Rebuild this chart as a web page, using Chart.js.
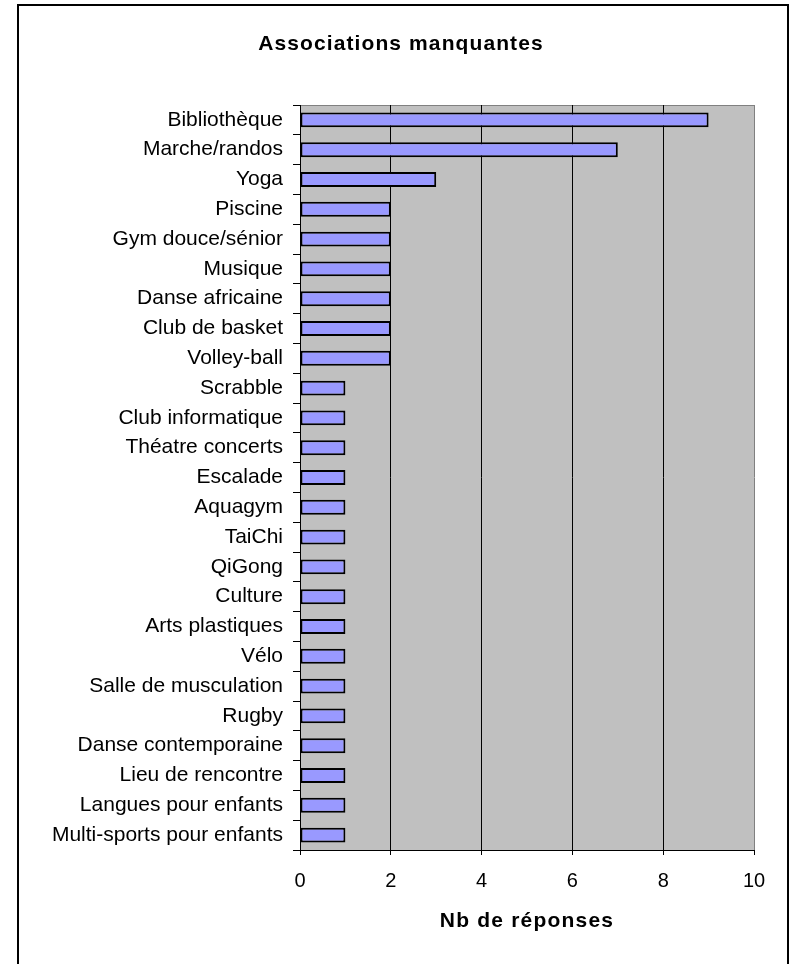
<!DOCTYPE html>
<html>
<head>
<meta charset="utf-8">
<script src="https://cdn.jsdelivr.net/npm/chart.js@4/dist/chart.umd.min.js"></script>
<style>
  body { margin: 0; background: #fff; }
  canvas { display: block; }
</style>
</head>
<body>
<canvas id="assocChart" width="792" height="964"></canvas>
<script>
// Associations manquantes
const categories = [
    'Bibliothèque', 'Marche/randos', 'Yoga', 'Piscine', 'Gym douce/sénior',
    'Musique', 'Danse africaine', 'Club de basket', 'Volley-ball', 'Scrabble',
    'Club informatique', 'Théatre concerts', 'Escalade', 'Aquagym', 'TaiChi',
    'QiGong', 'Culture', 'Arts plastiques', 'Vélo', 'Salle de musculation',
    'Rugby', 'Danse contemporaine', 'Lieu de rencontre', 'Langues pour enfants',
    'Multi-sports pour enfants'
];
const reponses = [9, 7, 3, 2, 2, 2, 2, 2, 2, 1, 1, 1, 1, 1, 1, 1, 1, 1, 1, 1, 1, 1, 1, 1, 1];
const xTicks = [0, 2, 4, 6, 8, 10];
const chartTitle = 'Associations manquantes';
const xTitle = 'Nb de réponses';

const FONT = "'Liberation Sans', Arial, sans-serif";

// gray plot area, outer frame, and the two bold titles (spaced like Excel)
const frame = {
    id: 'frame',
    beforeDraw(chart) {
        const c = chart.ctx;
        const a = chart.chartArea;
        c.save();
        c.fillStyle = '#c0c0c0';
        c.fillRect(a.left, a.top, a.right - a.left, a.bottom - a.top);
        c.strokeStyle = '#808080';
        c.lineWidth = 1;
        c.beginPath();
        c.moveTo(a.left, a.top + 0.5);
        c.lineTo(a.right, a.top + 0.5);
        c.stroke();
        c.strokeStyle = '#000';
        c.lineWidth = 2;
        c.strokeRect(18, 5, 770, 980);
        c.restore();
    },
    afterDraw(chart) {
        const c = chart.ctx;
        const a = chart.chartArea;
        c.save();
        c.fillStyle = '#000';
        c.textAlign = 'center';
        c.textBaseline = 'middle';
        c.font = 'bold 21px ' + FONT;
        c.letterSpacing = '1.1px';
        c.fillText(chartTitle, 401, 44);
        c.letterSpacing = '1.2px';
        c.fillText(xTitle, (a.left + a.right) / 2, 921);
        c.restore();
    }
};

const ctx = document.getElementById('assocChart').getContext('2d');
const chart = new Chart(ctx, {
    type: 'bar',
    data: {
        labels: categories,
        datasets: [{
            data: reponses,
            backgroundColor: '#9999ff',
            borderColor: '#000',
            borderWidth: 2,
            borderSkipped: false,
            barPercentage: 0.5,
            categoryPercentage: 1,
        }],
    },
    options: {
        indexAxis: 'y',
        responsive: false,
        animation: false,
        devicePixelRatio: 1,
        layout: { padding: { left: 0, right: 38, top: 105, bottom: 0 } },
        plugins: {
            legend: { display: false },
            tooltip: { enabled: false },
            title: { display: false },
        },
        scales: {
            x: {
                min: 0,
                max: 10,
                afterBuildTicks(scale) {
                    scale.ticks = xTicks.map(v => ({ value: v }));
                },
                afterFit(scale) { scale.height = 114; },
                ticks: {
                    color: '#000',
                    font: { family: FONT, size: 20 },
                    padding: 14,
                },
                grid: {
                    color: c => (c.tick && c.tick.value === 10 ? '#808080' : '#000'),
                    tickColor: '#000',
                    tickLength: 5,
                    lineWidth: 1,
                },
                border: { display: true, color: '#000', width: 1 },
            },
            y: {
                afterFit(scale) { scale.width = 300; },
                ticks: {
                    color: '#000',
                    font: { family: FONT, size: 21 },
                    padding: 10,
                    autoSkip: false,
                },
                grid: {
                    drawOnChartArea: false,
                    color: '#000',
                    tickLength: 7,
                    offset: true,
                },
                border: { display: true, color: '#000', width: 1 },
            },
        },
    },
    plugins: [frame],
});
</script>
</body>
</html>
